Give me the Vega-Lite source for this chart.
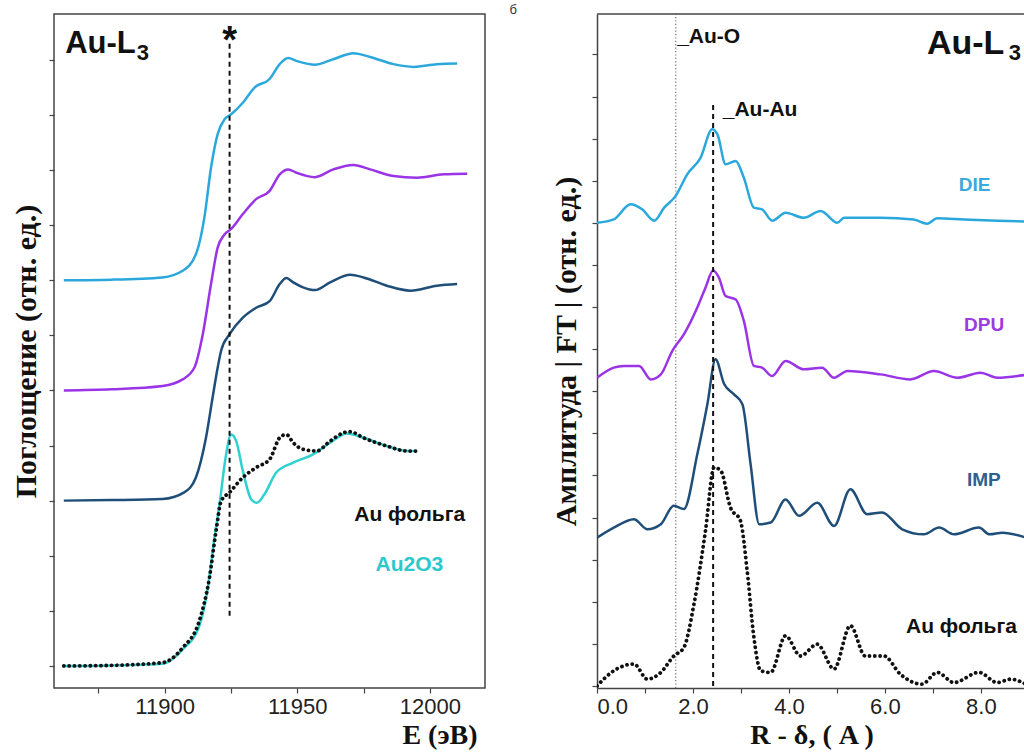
{
  "$schema": "https://vega.github.io/schema/vega-lite/v6.json",
  "padding": {"left": 10, "top": 3, "right": 0, "bottom": 0},
  "background": "white",
  "config": {
    "view": {"stroke": null},
    "axis": {"grid": false, "tickColor": "#444", "tickWidth": 1.2, "tickSize": 5, "domainColor": "#444", "domainWidth": 1.5,
      "labelFont": "Liberation Sans", "labelFontSize": 22, "labelColor": "#222",
      "titleFont": "Liberation Serif", "titleFontWeight": "bold", "titleColor": "#111"}
  },
  "bounds": "flush",
  "spacing": 112,
  "datasets": {
    "xanes": [
      {"E": 11862, "mu": 7.0, "s": "DIE"}, {"E": 11880, "mu": 7.01, "s": "DIE"}, {"E": 11899.2, "mu": 7.05, "s": "DIE"}, {"E": 11906.8, "mu": 7.17, "s": "DIE"}, {"E": 11911.8, "mu": 7.47, "s": "DIE"}, {"E": 11915, "mu": 8.14, "s": "DIE"}, {"E": 11917.5, "mu": 9.04, "s": "DIE"}, {"E": 11920, "mu": 9.65, "s": "DIE"}, {"E": 11922.6, "mu": 9.92, "s": "DIE"}, {"E": 11925.1, "mu": 10.01, "s": "DIE"}, {"E": 11929.5, "mu": 10.22, "s": "DIE"}, {"E": 11934, "mu": 10.5, "s": "DIE"}, {"E": 11939.6, "mu": 10.65, "s": "DIE"}, {"E": 11943.4, "mu": 10.92, "s": "DIE"}, {"E": 11946.6, "mu": 11.03, "s": "DIE"}, {"E": 11949.7, "mu": 10.98, "s": "DIE"}, {"E": 11956.7, "mu": 10.91, "s": "DIE"}, {"E": 11963.6, "mu": 11.01, "s": "DIE"}, {"E": 11971.2, "mu": 11.12, "s": "DIE"}, {"E": 11977.5, "mu": 11.05, "s": "DIE"}, {"E": 11986.3, "mu": 10.92, "s": "DIE"}, {"E": 11993.9, "mu": 10.87, "s": "DIE"}, {"E": 12002.7, "mu": 10.92, "s": "DIE"}, {"E": 12010.3, "mu": 10.93, "s": "DIE"},
      {"E": 11862, "mu": 5.0, "s": "DPU"}, {"E": 11880, "mu": 5.02, "s": "DPU"}, {"E": 11899.2, "mu": 5.08, "s": "DPU"}, {"E": 11906.8, "mu": 5.2, "s": "DPU"}, {"E": 11911.2, "mu": 5.41, "s": "DPU"}, {"E": 11914.4, "mu": 6.02, "s": "DPU"}, {"E": 11917.5, "mu": 6.93, "s": "DPU"}, {"E": 11920, "mu": 7.59, "s": "DPU"}, {"E": 11922.6, "mu": 7.83, "s": "DPU"}, {"E": 11925.1, "mu": 7.93, "s": "DPU"}, {"E": 11929.5, "mu": 8.2, "s": "DPU"}, {"E": 11934.5, "mu": 8.47, "s": "DPU"}, {"E": 11939.6, "mu": 8.62, "s": "DPU"}, {"E": 11943.4, "mu": 8.92, "s": "DPU"}, {"E": 11946.6, "mu": 9.01, "s": "DPU"}, {"E": 11949.7, "mu": 8.95, "s": "DPU"}, {"E": 11956.7, "mu": 8.87, "s": "DPU"}, {"E": 11963.6, "mu": 9.01, "s": "DPU"}, {"E": 11971.2, "mu": 9.09, "s": "DPU"}, {"E": 11977.5, "mu": 9.01, "s": "DPU"}, {"E": 11986.3, "mu": 8.89, "s": "DPU"}, {"E": 11995.2, "mu": 8.86, "s": "DPU"}, {"E": 12005.2, "mu": 8.92, "s": "DPU"}, {"E": 12014.1, "mu": 8.93, "s": "DPU"},
      {"E": 11862, "mu": 3.0, "s": "IMP"}, {"E": 11880, "mu": 3.01, "s": "IMP"}, {"E": 11899.2, "mu": 3.03, "s": "IMP"}, {"E": 11907.4, "mu": 3.15, "s": "IMP"}, {"E": 11911.8, "mu": 3.42, "s": "IMP"}, {"E": 11915.6, "mu": 4.14, "s": "IMP"}, {"E": 11918.1, "mu": 4.87, "s": "IMP"}, {"E": 11920, "mu": 5.41, "s": "IMP"}, {"E": 11921.3, "mu": 5.72, "s": "IMP"}, {"E": 11924.5, "mu": 6.02, "s": "IMP"}, {"E": 11929.5, "mu": 6.32, "s": "IMP"}, {"E": 11934.5, "mu": 6.5, "s": "IMP"}, {"E": 11939.6, "mu": 6.62, "s": "IMP"}, {"E": 11943.4, "mu": 6.93, "s": "IMP"}, {"E": 11945.9, "mu": 7.04, "s": "IMP"}, {"E": 11948.5, "mu": 6.96, "s": "IMP"}, {"E": 11952.2, "mu": 6.87, "s": "IMP"}, {"E": 11956.7, "mu": 6.82, "s": "IMP"}, {"E": 11962.4, "mu": 6.96, "s": "IMP"}, {"E": 11970, "mu": 7.1, "s": "IMP"}, {"E": 11975, "mu": 7.05, "s": "IMP"}, {"E": 11983.8, "mu": 6.9, "s": "IMP"}, {"E": 11992.7, "mu": 6.81, "s": "IMP"}, {"E": 12002.7, "mu": 6.9, "s": "IMP"}, {"E": 12010.3, "mu": 6.93, "s": "IMP"},
      {"E": 11862, "mu": 0, "s": "Au2O3"}, {"E": 11880, "mu": 0.01, "s": "Au2O3"}, {"E": 11899.2, "mu": 0.04, "s": "Au2O3"}, {"E": 11906.8, "mu": 0.3, "s": "Au2O3"}, {"E": 11913.1, "mu": 0.73, "s": "Au2O3"}, {"E": 11916.3, "mu": 1.42, "s": "Au2O3"}, {"E": 11918.8, "mu": 2.33, "s": "Au2O3"}, {"E": 11920.7, "mu": 2.93, "s": "Au2O3"}, {"E": 11923, "mu": 3.78, "s": "Au2O3"}, {"E": 11925.1, "mu": 4.2, "s": "Au2O3"}, {"E": 11927, "mu": 4.08, "s": "Au2O3"}, {"E": 11929.5, "mu": 3.54, "s": "Au2O3"}, {"E": 11932.7, "mu": 3.02, "s": "Au2O3"}, {"E": 11934.8, "mu": 2.96, "s": "Au2O3"}, {"E": 11937.7, "mu": 3.12, "s": "Au2O3"}, {"E": 11942.1, "mu": 3.51, "s": "Au2O3"}, {"E": 11948.5, "mu": 3.69, "s": "Au2O3"}, {"E": 11956, "mu": 3.84, "s": "Au2O3"}, {"E": 11962.4, "mu": 4.05, "s": "Au2O3"}, {"E": 11968.7, "mu": 4.22, "s": "Au2O3"}, {"E": 11975, "mu": 4.14, "s": "Au2O3"}, {"E": 11983.8, "mu": 3.99, "s": "Au2O3"}, {"E": 11991.4, "mu": 3.9, "s": "Au2O3"}, {"E": 11995.2, "mu": 3.9, "s": "Au2O3"},
      {"E": 11862, "mu": 0, "s": "foil"}, {"E": 11880, "mu": 0.01, "s": "foil"}, {"E": 11899.2, "mu": 0.06, "s": "foil"}, {"E": 11906.8, "mu": 0.33, "s": "foil"}, {"E": 11913.1, "mu": 0.82, "s": "foil"}, {"E": 11916.9, "mu": 1.6, "s": "foil"}, {"E": 11919.4, "mu": 2.45, "s": "foil"}, {"E": 11921.3, "mu": 2.99, "s": "foil"}, {"E": 11924.5, "mu": 3.15, "s": "foil"}, {"E": 11929.5, "mu": 3.42, "s": "foil"}, {"E": 11934.5, "mu": 3.6, "s": "foil"}, {"E": 11939.6, "mu": 3.75, "s": "foil"}, {"E": 11943.4, "mu": 4.14, "s": "foil"}, {"E": 11945.9, "mu": 4.2, "s": "foil"}, {"E": 11948.5, "mu": 4.05, "s": "foil"}, {"E": 11952.2, "mu": 3.93, "s": "foil"}, {"E": 11957.3, "mu": 3.9, "s": "foil"}, {"E": 11962.4, "mu": 4.08, "s": "foil"}, {"E": 11967.4, "mu": 4.23, "s": "foil"}, {"E": 11970, "mu": 4.25, "s": "foil"}, {"E": 11975, "mu": 4.14, "s": "foil"}, {"E": 11983.8, "mu": 3.99, "s": "foil"}, {"E": 11991.4, "mu": 3.9, "s": "foil"}, {"E": 11995.2, "mu": 3.9, "s": "foil"}
    ],
    "ft": [
      {"R": 0.0, "A": 11.0, "s": "DIE"}, {"R": 0.35, "A": 11.08, "s": "DIE"}, {"R": 0.7, "A": 11.44, "s": "DIE"}, {"R": 0.94, "A": 11.32, "s": "DIE"}, {"R": 1.19, "A": 11.05, "s": "DIE"}, {"R": 1.4, "A": 11.36, "s": "DIE"}, {"R": 1.64, "A": 11.64, "s": "DIE"}, {"R": 1.88, "A": 12.15, "s": "DIE"}, {"R": 2.16, "A": 12.55, "s": "DIE"}, {"R": 2.4, "A": 13.22, "s": "DIE"}, {"R": 2.51, "A": 13.1, "s": "DIE"}, {"R": 2.68, "A": 12.39, "s": "DIE"}, {"R": 2.89, "A": 12.47, "s": "DIE"}, {"R": 3.06, "A": 12.07, "s": "DIE"}, {"R": 3.27, "A": 11.36, "s": "DIE"}, {"R": 3.44, "A": 11.32, "s": "DIE"}, {"R": 3.65, "A": 11.05, "s": "DIE"}, {"R": 3.93, "A": 11.24, "s": "DIE"}, {"R": 4.31, "A": 11.12, "s": "DIE"}, {"R": 4.66, "A": 11.28, "s": "DIE"}, {"R": 5.01, "A": 11.0, "s": "DIE"}, {"R": 5.15, "A": 11.12, "s": "DIE"}, {"R": 5.91, "A": 11.12, "s": "DIE"}, {"R": 6.6, "A": 11.08, "s": "DIE"}, {"R": 6.88, "A": 10.98, "s": "DIE"}, {"R": 7.09, "A": 11.11, "s": "DIE"}, {"R": 7.65, "A": 11.08, "s": "DIE"}, {"R": 8.34, "A": 11.05, "s": "DIE"}, {"R": 9.0, "A": 11.03, "s": "DIE"},
      {"R": 0.0, "A": 7.32, "s": "DPU"}, {"R": 0.35, "A": 7.56, "s": "DPU"}, {"R": 0.56, "A": 7.6, "s": "DPU"}, {"R": 0.88, "A": 7.6, "s": "DPU"}, {"R": 1.12, "A": 7.28, "s": "DPU"}, {"R": 1.33, "A": 7.4, "s": "DPU"}, {"R": 1.57, "A": 7.96, "s": "DPU"}, {"R": 1.81, "A": 8.35, "s": "DPU"}, {"R": 2.09, "A": 8.99, "s": "DPU"}, {"R": 2.26, "A": 9.46, "s": "DPU"}, {"R": 2.42, "A": 9.87, "s": "DPU"}, {"R": 2.54, "A": 9.7, "s": "DPU"}, {"R": 2.68, "A": 9.26, "s": "DPU"}, {"R": 2.89, "A": 9.18, "s": "DPU"}, {"R": 3.06, "A": 8.67, "s": "DPU"}, {"R": 3.27, "A": 7.6, "s": "DPU"}, {"R": 3.44, "A": 7.56, "s": "DPU"}, {"R": 3.65, "A": 7.36, "s": "DPU"}, {"R": 3.93, "A": 7.72, "s": "DPU"}, {"R": 4.31, "A": 7.52, "s": "DPU"}, {"R": 4.69, "A": 7.56, "s": "DPU"}, {"R": 4.94, "A": 7.32, "s": "DPU"}, {"R": 5.22, "A": 7.48, "s": "DPU"}, {"R": 5.91, "A": 7.4, "s": "DPU"}, {"R": 6.53, "A": 7.28, "s": "DPU"}, {"R": 7.02, "A": 7.48, "s": "DPU"}, {"R": 7.51, "A": 7.32, "s": "DPU"}, {"R": 7.99, "A": 7.44, "s": "DPU"}, {"R": 8.34, "A": 7.32, "s": "DPU"}, {"R": 9.0, "A": 7.4, "s": "DPU"},
      {"R": 0.0, "A": 3.52, "s": "IMP"}, {"R": 0.35, "A": 3.76, "s": "IMP"}, {"R": 0.77, "A": 3.96, "s": "IMP"}, {"R": 1.05, "A": 3.72, "s": "IMP"}, {"R": 1.33, "A": 3.84, "s": "IMP"}, {"R": 1.6, "A": 4.28, "s": "IMP"}, {"R": 1.81, "A": 4.2, "s": "IMP"}, {"R": 2.09, "A": 5.5, "s": "IMP"}, {"R": 2.3, "A": 6.69, "s": "IMP"}, {"R": 2.47, "A": 7.76, "s": "IMP"}, {"R": 2.65, "A": 7.17, "s": "IMP"}, {"R": 2.85, "A": 6.93, "s": "IMP"}, {"R": 3.03, "A": 6.69, "s": "IMP"}, {"R": 3.2, "A": 5.27, "s": "IMP"}, {"R": 3.38, "A": 3.84, "s": "IMP"}, {"R": 3.62, "A": 3.88, "s": "IMP"}, {"R": 3.93, "A": 4.43, "s": "IMP"}, {"R": 4.21, "A": 4.04, "s": "IMP"}, {"R": 4.59, "A": 4.35, "s": "IMP"}, {"R": 4.94, "A": 3.8, "s": "IMP"}, {"R": 5.28, "A": 4.67, "s": "IMP"}, {"R": 5.63, "A": 4.08, "s": "IMP"}, {"R": 5.94, "A": 4.12, "s": "IMP"}, {"R": 6.36, "A": 3.72, "s": "IMP"}, {"R": 6.81, "A": 3.6, "s": "IMP"}, {"R": 7.13, "A": 3.76, "s": "IMP"}, {"R": 7.44, "A": 3.6, "s": "IMP"}, {"R": 7.96, "A": 3.76, "s": "IMP"}, {"R": 8.18, "A": 3.6, "s": "IMP"}, {"R": 8.45, "A": 3.64, "s": "IMP"}, {"R": 9.0, "A": 3.5, "s": "IMP"},
      {"R": 0.0, "A": 0.0, "s": "foil"}, {"R": 0.35, "A": 0.36, "s": "foil"}, {"R": 0.77, "A": 0.52, "s": "foil"}, {"R": 1.05, "A": 0.16, "s": "foil"}, {"R": 1.33, "A": 0.32, "s": "foil"}, {"R": 1.6, "A": 0.71, "s": "foil"}, {"R": 1.81, "A": 0.91, "s": "foil"}, {"R": 2.02, "A": 1.94, "s": "foil"}, {"R": 2.26, "A": 3.68, "s": "foil"}, {"R": 2.44, "A": 5.19, "s": "foil"}, {"R": 2.58, "A": 5.11, "s": "foil"}, {"R": 2.78, "A": 4.24, "s": "foil"}, {"R": 2.99, "A": 3.92, "s": "foil"}, {"R": 3.13, "A": 2.73, "s": "foil"}, {"R": 3.27, "A": 1.15, "s": "foil"}, {"R": 3.41, "A": 0.36, "s": "foil"}, {"R": 3.62, "A": 0.32, "s": "foil"}, {"R": 3.93, "A": 1.19, "s": "foil"}, {"R": 4.24, "A": 0.71, "s": "foil"}, {"R": 4.59, "A": 0.99, "s": "foil"}, {"R": 4.94, "A": 0.4, "s": "foil"}, {"R": 5.28, "A": 1.43, "s": "foil"}, {"R": 5.59, "A": 0.71, "s": "foil"}, {"R": 5.98, "A": 0.71, "s": "foil"}, {"R": 6.32, "A": 0.28, "s": "foil"}, {"R": 6.77, "A": 0.04, "s": "foil"}, {"R": 7.09, "A": 0.32, "s": "foil"}, {"R": 7.44, "A": 0.08, "s": "foil"}, {"R": 7.96, "A": 0.32, "s": "foil"}, {"R": 8.34, "A": 0.08, "s": "foil"}, {"R": 8.62, "A": 0.16, "s": "foil"}, {"R": 9.0, "A": 0.0, "s": "foil"}
    ]
  },
  "hconcat": [
    {
      "width": 431, "height": 674,
      "view": {"stroke": "#444", "strokeWidth": 1.5},
      "layer": [
        {
          "data": {"name": "xanes"},
          "transform": [{"filter": "datum.s !== 'foil'"}],
          "mark": {"type": "line", "interpolate": "monotone", "strokeWidth": 2.5},
          "encoding": {
            "x": {"field": "E", "type": "quantitative", "scale": {"domain": [11858.3, 12020.8], "nice": false, "zero": false},
              "axis": {"values": [11875, 11900, 11925, 11950, 11975, 12000], "format": "d", "labelExpr": "datum.value % 50 === 0 ? datum.label : ''", "domain": false, "labelPadding": 3, "title": "E (эВ)", "titleFontSize": 28, "titleX": 423, "titleAlign": "right", "titleAnchor": "start", "titlePadding": 4}},
            "y": {"field": "mu", "type": "quantitative", "scale": {"domain": [-0.4, 11.83], "nice": false, "zero": false},
              "axis": {"values": [0, 1, 2, 3, 4, 5, 6, 7, 8, 9, 10, 11], "labels": false, "domain": false, "title": "Поглощение  (отн. ед.)", "titleFontSize": 30, "titlePadding": 7}},
            "color": {"field": "s", "type": "nominal", "legend": null, "scale": {"domain": ["DIE", "DPU", "IMP", "Au2O3"], "range": ["#2aa8dc", "#9a34e6", "#1f4e79", "#2fd0d0"]}},
            "order": {"field": "E"}
          }
        },
        {
          "data": {"name": "xanes"},
          "transform": [{"filter": "datum.s === 'foil'"}],
          "mark": {"type": "line", "interpolate": "monotone", "strokeWidth": 3.8, "strokeDash": [0.1, 5.2], "strokeCap": "round", "color": "#111"},
          "encoding": {"x": {"field": "E", "type": "quantitative"}, "y": {"field": "mu", "type": "quantitative"}, "order": {"field": "E"}}
        },
        {
          "data": {"values": [{}]},
          "mark": {"type": "rule", "strokeDash": [5, 4], "strokeWidth": 2, "color": "#111"},
          "encoding": {"x": {"datum": 11924.5, "type": "quantitative"}, "y": {"datum": 0.91, "type": "quantitative"}, "y2": {"datum": 11.34}}
        },
        {
          "data": {"values": [{"t": "Au-L"}]},
          "mark": {"type": "text", "font": "Liberation Sans", "fontWeight": "bold", "fontSize": 31, "align": "left", "baseline": "alphabetic", "color": "#111"},
          "encoding": {"x": {"datum": 11862.5, "type": "quantitative"}, "y": {"datum": 11.13, "type": "quantitative"}, "text": {"field": "t"}}
        },
        {
          "data": {"values": [{"t": "3"}]},
          "mark": {"type": "text", "font": "Liberation Sans", "fontWeight": "bold", "fontSize": 22, "align": "left", "baseline": "alphabetic", "color": "#111"},
          "encoding": {"x": {"datum": 11889.5, "type": "quantitative"}, "y": {"datum": 11.0, "type": "quantitative"}, "text": {"field": "t"}}
        },
        {
          "data": {"values": [{"t": "*"}]},
          "mark": {"type": "text", "font": "Liberation Sans", "fontWeight": "bold", "fontSize": 38, "align": "center", "baseline": "alphabetic", "color": "#111"},
          "encoding": {"x": {"datum": 11924.5, "type": "quantitative"}, "y": {"datum": 11.13, "type": "quantitative"}, "text": {"field": "t"}}
        },
        {
          "data": {"values": [{"t": "Au фольга"}]},
          "mark": {"type": "text", "font": "Liberation Sans", "fontWeight": "bold", "fontSize": 21, "align": "left", "baseline": "alphabetic", "color": "#111"},
          "encoding": {"x": {"datum": 11971.5, "type": "quantitative"}, "y": {"datum": 2.63, "type": "quantitative"}, "text": {"field": "t"}}
        },
        {
          "data": {"values": [{"t": "Au2O3"}]},
          "mark": {"type": "text", "font": "Liberation Sans", "fontWeight": "bold", "fontSize": 21, "align": "left", "baseline": "alphabetic", "color": "#2cc8cc"},
          "encoding": {"x": {"datum": 11979.5, "type": "quantitative"}, "y": {"datum": 1.72, "type": "quantitative"}, "text": {"field": "t"}}
        },
        {
          "data": {"values": [{"t": "б"}]},
          "mark": {"type": "text", "font": "Liberation Sans", "fontSize": 13, "align": "left", "baseline": "middle", "color": "#333"},
          "encoding": {"x": {"datum": 12030, "type": "quantitative"}, "y": {"datum": 11.9, "type": "quantitative"}, "text": {"field": "t"}}
        }
      ]
    },
    {
      "width": 429, "height": 674,
      "view": {"stroke": null},
      "layer": [
        {
          "data": {"values": [{}]},
          "mark": {"type": "rule", "strokeDash": [1.2, 2.2], "strokeWidth": 1.5, "color": "#888"},
          "encoding": {
            "x": {"datum": 1.64, "type": "quantitative", "scale": {"domain": [0, 8.94], "nice": false, "zero": false},
              "axis": {"values": [0, 1, 2, 3, 4, 5, 6, 7, 8], "labelExpr": "datum.value % 2 === 0 ? format(datum.value, '.1f') : ''", "domain": true, "labelPadding": 3, "title": "R - δ, ( A )", "titleFontSize": 28, "titlePadding": 4}},
            "y": {"datum": -0.05, "type": "quantitative", "scale": {"domain": [-0.05, 15.96], "nice": false, "zero": false},
              "axis": {"values": [0, 1, 2, 3, 4, 5, 6, 7, 8, 9, 10, 11, 12, 13, 14, 15], "labels": false, "domain": true, "title": "Амплитуда  | FT |  (отн. ед.)", "titleFontSize": 30, "titlePadding": 10}},
            "y2": {"datum": 15.96}
          }
        },
        {
          "data": {"values": [{}]},
          "mark": {"type": "rule", "strokeWidth": 1.5, "color": "#444"},
          "encoding": {"x": {"datum": 0, "type": "quantitative"}, "x2": {"datum": 8.94}, "y": {"datum": 15.96, "type": "quantitative"}}
        },
        {
          "data": {"name": "ft"},
          "transform": [{"filter": "datum.s !== 'foil'"}],
          "mark": {"type": "line", "interpolate": "monotone", "strokeWidth": 2.5, "clip": true},
          "encoding": {
            "x": {"field": "R", "type": "quantitative"},
            "y": {"field": "A", "type": "quantitative"},
            "color": {"field": "s", "type": "nominal", "legend": null, "scale": {"domain": ["DIE", "DPU", "IMP", "Au2O3"], "range": ["#2aa8dc", "#9a34e6", "#1f4e79", "#2fd0d0"]}},
            "order": {"field": "R"}
          }
        },
        {
          "data": {"name": "ft"},
          "transform": [{"filter": "datum.s === 'foil'"}],
          "mark": {"type": "line", "interpolate": "monotone", "strokeWidth": 3.8, "strokeDash": [0.1, 5.2], "strokeCap": "round", "color": "#111", "clip": true},
          "encoding": {"x": {"field": "R", "type": "quantitative"}, "y": {"field": "A", "type": "quantitative"}, "order": {"field": "R"}}
        },
        {
          "data": {"values": [{}]},
          "mark": {"type": "rule", "strokeDash": [5, 4], "strokeWidth": 2, "color": "#111"},
          "encoding": {"x": {"datum": 2.42, "type": "quantitative"}, "y": {"datum": 0, "type": "quantitative"}, "y2": {"datum": 13.82}}
        },
        {
          "data": {"values": [{"t": "_Au-O", "x": 1.67, "y": 15.27}, {"t": "_Au-Au", "x": 2.62, "y": 13.54}]},
          "mark": {"type": "text", "font": "Liberation Sans", "fontWeight": "bold", "fontSize": 21, "align": "left", "baseline": "alphabetic", "color": "#111"},
          "encoding": {"x": {"field": "x", "type": "quantitative"}, "y": {"field": "y", "type": "quantitative"}, "text": {"field": "t"}}
        },
        {
          "data": {"values": [{"t": "Au-L"}]},
          "mark": {"type": "text", "font": "Liberation Sans", "fontWeight": "bold", "fontSize": 34, "align": "left", "baseline": "alphabetic", "color": "#111"},
          "encoding": {"x": {"datum": 6.875, "type": "quantitative"}, "y": {"datum": 15.01, "type": "quantitative"}, "text": {"field": "t"}}
        },
        {
          "data": {"values": [{"t": "3"}]},
          "mark": {"type": "text", "font": "Liberation Sans", "fontWeight": "bold", "fontSize": 22, "align": "left", "baseline": "alphabetic", "color": "#111"},
          "encoding": {"x": {"datum": 8.58, "type": "quantitative"}, "y": {"datum": 14.87, "type": "quantitative"}, "text": {"field": "t"}}
        },
        {
          "data": {"values": [{"t": "DIE", "x": 7.54, "y": 11.76, "c": "#3aa9dc", "f": 19}, {"t": "DPU", "x": 7.65, "y": 8.43, "c": "#9b3be0", "f": 19}, {"t": "IMP", "x": 7.71, "y": 4.75, "c": "#2f5f8f", "f": 19}, {"t": "Au фольга", "x": 6.44, "y": 1.26, "c": "#111111", "f": 21}]},
          "mark": {"type": "text", "font": "Liberation Sans", "fontWeight": "bold", "align": "left", "baseline": "alphabetic"},
          "encoding": {"x": {"field": "x", "type": "quantitative"}, "y": {"field": "y", "type": "quantitative"}, "text": {"field": "t"}, "color": {"field": "c", "type": "nominal", "scale": null}, "size": {"field": "f", "type": "quantitative", "scale": null}}
        }
      ]
    }
  ]
}
